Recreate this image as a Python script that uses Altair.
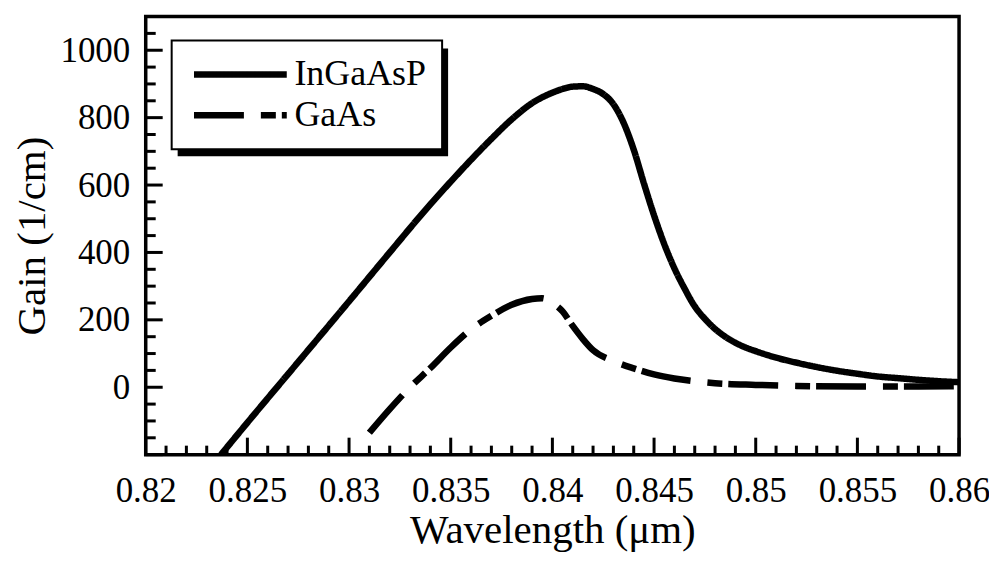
import altair as alt
import pandas as pd

# InGaAsP gain curve
w_ingaasp = [0.8237, 0.825, 0.8275, 0.830, 0.832, 0.834, 0.835, 0.836, 0.837, 0.838,
             0.839, 0.840, 0.8405, 0.841, 0.8415, 0.842, 0.8425, 0.843, 0.8435, 0.844,
             0.8445, 0.845, 0.8455, 0.846, 0.8465, 0.847, 0.8475, 0.848, 0.8485, 0.849,
             0.8495, 0.850, 0.851, 0.852, 0.853, 0.854, 0.855, 0.856, 0.857, 0.858,
             0.859, 0.860]
g_ingaasp = [-200, -105, 75, 255, 400, 543, 610, 675, 737, 795,
             843, 874, 885, 892, 893, 885, 870, 840, 785, 705,
             605, 510, 425, 353, 293, 240, 203, 173, 150, 132,
             118, 107, 88, 73, 60, 49, 40, 32, 27, 22,
             18, 15]

# GaAs gain curve
w_gaas = [0.831, 0.832, 0.833, 0.834, 0.835, 0.836, 0.837, 0.838, 0.839, 0.8395,
          0.840, 0.8405, 0.841, 0.8415, 0.842, 0.843, 0.844, 0.845, 0.846, 0.847,
          0.848, 0.850, 0.852, 0.855, 0.858, 0.860]
g_gaas = [-135, -65, 0, 57, 118, 172, 212, 245, 262, 264,
          250, 225, 182, 143, 110, 78, 56, 38, 26, 18,
          12, 7, 4, 2, 2, 3]

series_names = ["InGaAsP", "GaAs"]

x_major = [0.82, 0.825, 0.83, 0.835, 0.84, 0.845, 0.85, 0.855, 0.86]
x_minor = [round(0.82 + 0.001 * i, 3) for i in range(41) if i % 5 != 0]
y_labels = [0, 200, 400, 600, 800, 1000]
y_major = [-200, 0, 200, 400, 600, 800, 1000]
y_minor = [v for v in range(-150, 1100, 50) if v % 200 != 0]

FONT = "Liberation Serif"
W, H = 815, 439
XDOM = [0.82, 0.86]
YDOM = [-200, 1100]

df = pd.DataFrame({
    "wavelength": w_ingaasp + w_gaas,
    "gain": g_ingaasp + g_gaas,
    "series": [series_names[0]] * len(w_ingaasp) + [series_names[1]] * len(w_gaas),
})

xs = alt.Scale(domain=XDOM, nice=False, zero=False)
ys = alt.Scale(domain=YDOM, nice=False, zero=False)

lines = alt.Chart(df).mark_line(color="black", strokeWidth=6.5, clip=True,
                                interpolate="monotone", strokeCap="butt").encode(
    x=alt.X("wavelength:Q", scale=xs,
            axis=alt.Axis(values=x_major, format=".3~f", title="Wavelength (μm)",
                          ticks=False, tickSize=0, domain=False, grid=False,
                          labelPadding=19, labelFontSize=35, labelFont=FONT,
                          titleFont=FONT, titleFontSize=41, titleFontWeight="normal",
                          titlePadding=2, labelColor="black", titleColor="black",
                          labelFlush=False, labelOverlap=False)),
    y=alt.Y("gain:Q", scale=ys,
            axis=alt.Axis(values=y_labels, format="d", title="Gain (1/cm)",
                          ticks=False, tickSize=0, domain=False, grid=False,
                          labelPadding=16, labelFontSize=35, labelFont=FONT,
                          titleFont=FONT, titleFontSize=41, titleFontWeight="normal",
                          titlePadding=6, labelColor="black", titleColor="black",
                          labelFlush=False, labelOverlap=False)),
    strokeDash=alt.StrokeDash(
        "series:N",
        scale=alt.Scale(domain=series_names, range=[[1, 0], [50, 17, 15, 6]]),
        sort=series_names,
        legend=alt.Legend(title=None, orient="none", legendX=26, legendY=24,
                          symbolType="M-1,0H7", symbolSize=540, symbolStrokeWidth=6.5,
                          symbolStrokeColor="black", labelFont=FONT, labelFontSize=36,
                          labelColor="black", labelOffset=71, labelLimit=400,
                          rowPadding=5, padding=16, fillColor="white",
                          strokeColor="black"),
    ),
    order=alt.Order("wavelength:Q"),
)

shadow = alt.Chart(pd.DataFrame({"k": [0]})).mark_rect(color="black").encode(
    x=alt.value(32), x2=alt.value(303), y=alt.value(32), y2=alt.value(140)
)

xmaj = alt.Chart(pd.DataFrame({"v": x_major})).mark_rule(color="black", strokeWidth=3).encode(
    x=alt.X("v:Q", scale=xs), y=alt.value(H), y2=alt.value(H - 17))
xmin = alt.Chart(pd.DataFrame({"v": x_minor})).mark_rule(color="black", strokeWidth=3).encode(
    x=alt.X("v:Q", scale=xs), y=alt.value(H), y2=alt.value(H - 9))
ymaj = alt.Chart(pd.DataFrame({"v": y_major})).mark_rule(color="black", strokeWidth=3).encode(
    y=alt.Y("v:Q", scale=ys), x=alt.value(0), x2=alt.value(17))
ymin = alt.Chart(pd.DataFrame({"v": y_minor})).mark_rule(color="black", strokeWidth=3).encode(
    y=alt.Y("v:Q", scale=ys), x=alt.value(0), x2=alt.value(10))

chart = alt.layer(shadow, xmin, xmaj, ymin, ymaj, lines).properties(
    width=W, height=H,
    autosize=alt.AutoSizeParams(type="none"),
    padding={"left": 138, "top": 8, "right": 30, "bottom": 100},
).configure(background="white", font=FONT).configure_view(
    stroke="black", strokeWidth=3.5
).configure_legend(strokeWidth=2)

chart.save("out.html", embed_options={"renderer": "svg", "actions": False})
